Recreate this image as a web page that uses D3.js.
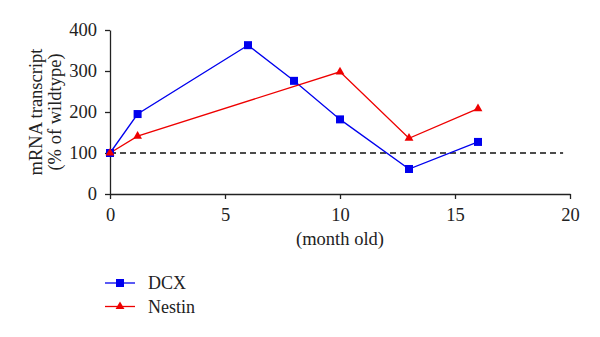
<!DOCTYPE html>
<html><head><meta charset="utf-8">
<script src="https://cdn.jsdelivr.net/npm/d3@7"></script>
<style>body{margin:0;background:#fff}svg{display:block}</style>
</head><body><svg id="c" width="600" height="337"></svg>
<script>
const xTicks=[0,5,10,15,20];
const yTicks=[0,100,200,300,400];
const dcxX=[0,1.2,6,8,10,13,16];
const dcxY=[100,195,363,276,182,61,127];
const nesX=[0,1.2,10,13,16];
const nesY=[100,141,298,136,208];
const baseline=100;
const baselineEnd=19.7;
const seriesNames=["DCX","Nestin"];
const colors=["#0000ee","#ee0000"];
const FONT='"Liberation Serif","DejaVu Serif",serif';

const svg=d3.select("#c");
const x=d3.scaleLinear().domain([0,20]).range([110,570]);
const y=d3.scaleLinear().domain([0,400]).range([194,30]);

const xa=svg.append("g").attr("transform","translate(0,194)")
 .call(d3.axisBottom(x).tickValues(xTicks).tickSize(5).tickSizeOuter(0).tickPadding(4));
const ya=svg.append("g").attr("transform","translate(110,0)")
 .call(d3.axisLeft(y).tickValues(yTicks).tickSize(5).tickSizeOuter(0).tickPadding(8));
[xa,ya].forEach(a=>{a.attr("font-family",null).attr("font-size",null);
 a.selectAll("path,line").attr("stroke","#222").attr("stroke-width",1.3);
 a.selectAll("text").style("font-family",FONT).style("font-size","18.5px").attr("fill","#222");});
xa.selectAll("text").attr("dy","0.95em");

svg.append("line").attr("x1",x(0)).attr("x2",x(baselineEnd)).attr("y1",y(baseline)).attr("y2",y(baseline))
 .attr("stroke","#111").attr("stroke-width",1.4).attr("stroke-dasharray","6,4");

const data=[dcxX.map((d,i)=>[d,dcxY[i]]),nesX.map((d,i)=>[d,nesY[i]])];
const line=d3.line().x(d=>x(d[0])).y(d=>y(d[1]));
data.forEach((s,i)=>{
 svg.append("path").attr("d",line(s)).attr("fill","none").attr("stroke",colors[i]).attr("stroke-width",1.3);
});
function marker(g,i,cx,cy){
 if(i===0) g.append("rect").attr("x",cx-4).attr("y",cy-4).attr("width",8).attr("height",8).attr("fill",colors[0]);
 else g.append("path").attr("d",d3.symbol().type(d3.symbolTriangle).size(34)()).attr("transform",`translate(${cx},${cy})`).attr("fill",colors[1]);
}
data.forEach((s,i)=>{s.forEach(d=>marker(svg,i,x(d[0]),y(d[1])));});

function txt(){return svg.append("text").style("font-family",FONT).style("font-size","18.5px").attr("fill","#222");}
txt().attr("transform","translate(42,112) rotate(-90)").attr("text-anchor","middle").text("mRNA transcript");
txt().attr("transform","translate(61,112) rotate(-90)").attr("text-anchor","middle").text("(% of wildtype)");
txt().attr("x",340).attr("y",245).attr("text-anchor","middle").text("(month old)");

seriesNames.forEach((n,i)=>{
 const ly=283+i*23.5;
 svg.append("line").attr("x1",105).attr("x2",135).attr("y1",ly).attr("y2",ly).attr("stroke",colors[i]).attr("stroke-width",1.3);
 marker(svg,i,120,ly);
 txt().style("font-size","18px").attr("x",148).attr("y",ly+6).text(n);
});
</script></body></html>
